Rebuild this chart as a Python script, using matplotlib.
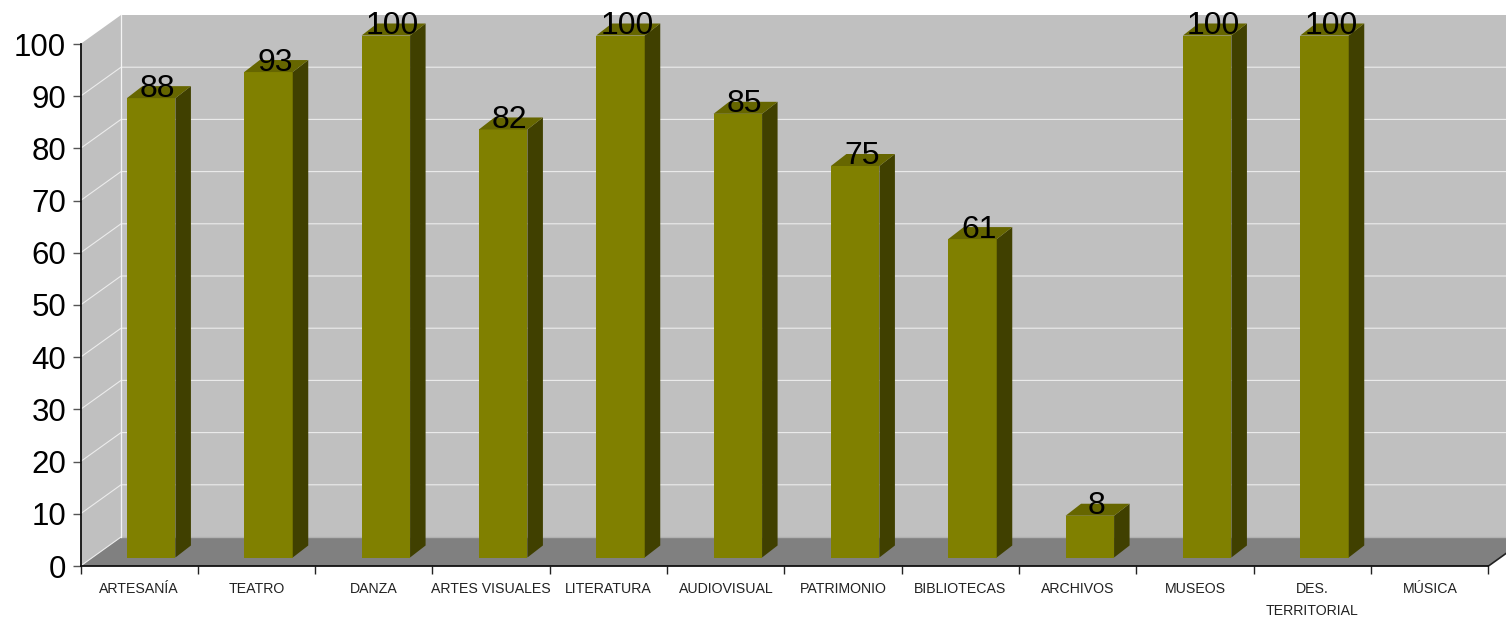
import numpy as np
import matplotlib
matplotlib.use('Agg')
import matplotlib.pyplot as plt
from matplotlib.patches import Polygon

plt.rcParams['font.family'] = ['Liberation Sans', 'DejaVu Sans']

# Datos
categorias = ['ARTESANÍA', 'TEATRO', 'DANZA', 'ARTES VISUALES', 'LITERATURA', 'AUDIOVISUAL',
              'PATRIMONIO', 'BIBLIOTECAS', 'ARCHIVOS', 'MUSEOS', 'DES.\nTERRITORIAL', 'MÚSICA']
valores = [88, 93, 100, 82, 100, 85, 75, 61, 8, 100, 100, np.nan]
ticks_y = list(range(0, 101, 10))

W, H = 1506, 617
fig = plt.figure(figsize=(W / 100, H / 100), dpi=100)
ax = fig.add_axes([80.5 / W, (H - 566) / H, 1408 / W, 522 / H])
ax.set_xlim(0, len(categorias))
ax.set_ylim(0, 100)

# pixeles a unidades de datos
ux = len(categorias) / 1408
uy = 100 / 522
prof_x, prof_y = 40.5 * ux, 29 * uy  # fondo del grafico
ancho = 48.5 * ux
desp_x, desp_y = 12 * ux, 8.5 * uy  # barra respecto al frente
lado_x, lado_y = 15.5 * ux, 12 * uy  # profundidad de la barra

# Paredes y piso
fin = len(categorias)
ax.add_patch(Polygon([(0, 0), (prof_x, prof_y), (fin + prof_x, prof_y), (fin + prof_x, 100 + prof_y),
                      (prof_x, 100 + prof_y), (0, 100)], fc='#c0c0c0', ec='none', clip_on=False, zorder=1))
ax.add_patch(Polygon([(0, 0), (prof_x, prof_y), (fin + prof_x, prof_y), (fin, 0)],
                     fc='#808080', ec='none', clip_on=False, zorder=1.2))
ax.plot([prof_x, fin + prof_x], [prof_y, prof_y], color='#b2b2b2', lw=1, clip_on=False, zorder=1.3)

# Rejilla
for t in ticks_y[1:-1]:
    ax.plot([0, prof_x, fin + prof_x], [t, t + prof_y, t + prof_y], color='#ececec', lw=0.8,
            clip_on=False, zorder=1.5)
ax.plot([0, prof_x], [0, prof_y], color='#ececec', lw=0.8, clip_on=False, zorder=1.5)
ax.plot([prof_x, prof_x], [prof_y, 100 + prof_y], color='#f4f4f4', lw=0.9, clip_on=False, zorder=1.5)
ax.plot([fin, fin + prof_x], [0, prof_y], color='#222222', lw=1.2, clip_on=False, zorder=1.6)

# Barras
x = np.arange(len(categorias)) + 0.5
izq = x + desp_x - ancho / 2
der = x + desp_x + ancho / 2
for i, v in enumerate(valores):
    if np.isnan(v):
        continue
    tope = v + desp_y
    ax.bar(izq[i], v, width=ancho, bottom=desp_y, align='edge', color='#808000', clip_on=False, zorder=3)
    ax.add_patch(Polygon([(der[i], desp_y), (der[i] + lado_x, desp_y + lado_y),
                          (der[i] + lado_x, tope + lado_y), (der[i], tope)],
                         fc='#404000', ec='none', clip_on=False, zorder=3))
    ax.add_patch(Polygon([(izq[i], tope), (izq[i] + lado_x, tope + lado_y),
                          (der[i] + lado_x, tope + lado_y), (der[i], tope)],
                         fc='#666600', ec='none', clip_on=False, zorder=3))
    ax.text(x[i] + desp_x + 6.5 * ux, tope + 9.5 * uy, f'{v:.0f}', ha='center', va='center',
            fontsize=23, color='black', clip_on=False, zorder=5)

# Ejes
for s in ['top', 'right']:
    ax.spines[s].set_visible(False)
for s in ['left', 'bottom']:
    ax.spines[s].set_linewidth(1.3)
    ax.spines[s].set_color('#111111')
    ax.spines[s].set_zorder(4)
ax.set_yticks(ticks_y)
ax.tick_params(axis='y', length=8 * 0.72, width=1, color='#555555', labelsize=22.5, pad=4.5)
ax.set_xticks(np.arange(len(categorias) + 1))
ax.set_xticklabels([])
ax.tick_params(axis='x', which='major', length=8 * 0.72, width=1, color='#222222')
ax.set_xticks(x, minor=True)
ax.set_xticklabels(categorias, minor=True, fontsize=10.2, color='#222222', linespacing=1.75, va='top')
ax.tick_params(axis='x', which='minor', length=0, pad=11.5)

fig.savefig('out.png', dpi=100)
